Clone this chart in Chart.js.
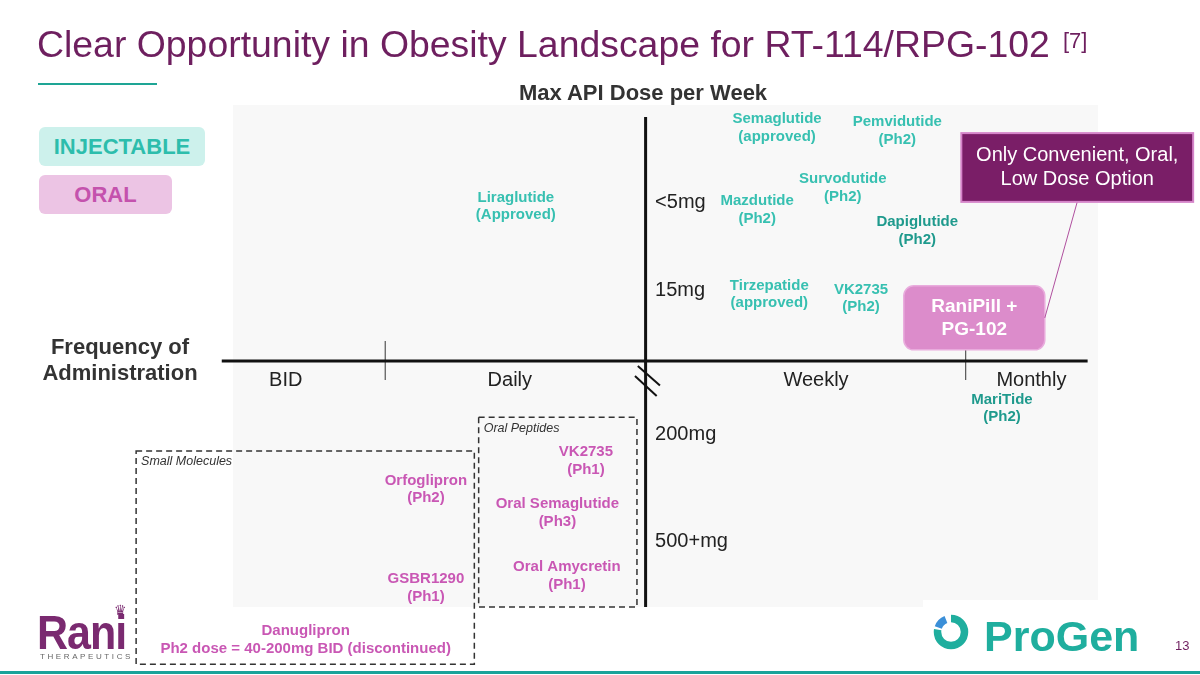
<!DOCTYPE html>
<html>
<head>
<meta charset="utf-8">
<script src="https://cdn.jsdelivr.net/npm/chart.js@4.4.0/dist/chart.umd.min.js"></script>
<style>
  body { margin: 0; background: #fff; font-family: "Liberation Sans", Arial, sans-serif; }
  #wrap { position: relative; width: 1200px; height: 675px; overflow: hidden; }
  #chart { position: absolute; left: 0; top: 0; }
  .abs { position: absolute; white-space: nowrap; line-height: 1; }
  .badge { position: absolute; display: flex; align-items: center; justify-content: center;
           border-radius: 6px; font-weight: bold; font-size: 22px; }
</style>
</head>
<body>
<div id="wrap">
  <canvas id="chart" width="1200" height="675"></canvas>

  <div class="abs" style="left:37px; top:26px; font-size:37.4px; color:#6e1f5f;">Clear Opportunity in Obesity Landscape for RT-114/RPG-102</div>
  <div class="abs" style="left:1063px; top:30px; font-size:22px; color:#6e1f5f;">[7]</div>
  <div class="abs" style="left:38px; top:83px; width:119px; height:2px; background:#1ea595;"></div>

  <div class="abs" style="left:443px; width:400px; text-align:center; top:82px; font-size:22px; font-weight:bold; color:#333;">Max API Dose per Week</div>
  <div class="abs" style="left:0px; width:240px; text-align:center; top:336px; font-size:22px; font-weight:bold; color:#333;">Frequency of</div>
  <div class="abs" style="left:0px; width:240px; text-align:center; top:362px; font-size:22px; font-weight:bold; color:#333;">Administration</div>

  <div class="badge" style="left:39px; top:127px; width:166px; height:39px; background:#cdf1ec; color:#2dbdac;">INJECTABLE</div>
  <div class="badge" style="left:39px; top:175px; width:133px; height:39px; background:#ecc4e4; color:#c452ad;">ORAL</div>

  <!-- logos -->
  <div class="abs" style="left:37px; top:609px; font-size:43px; font-weight:bold; color:#7a2a70; letter-spacing:-1px; transform:scaleY(1.1); transform-origin:left top;">Rani</div>
  <div class="abs" style="left:114px; top:603px; font-size:14px; color:#7a2a70;">&#9819;</div>
  <div class="abs" style="left:40px; top:653px; font-size:8px; letter-spacing:2.6px; color:#666;">THERAPEUTICS</div>

  <div class="abs" style="left:923px; top:600px; width:180px; height:68px; background:#fff;"></div>
  <svg class="abs" style="left:930px; top:611px;" width="44" height="44">
    <circle cx="21" cy="21" r="13.5" fill="none" stroke="#1fae9e" stroke-width="7.5"
            pathLength="360" stroke-dasharray="280 80" stroke-dashoffset="-270"></circle>
    <circle cx="21" cy="21" r="13.5" fill="none" stroke="#3b8fd8" stroke-width="7.5"
            pathLength="360" stroke-dasharray="48 312" stroke-dashoffset="-200"></circle>
  </svg>
  <div class="abs" style="left:984px; top:615px; font-size:43px; font-weight:bold; color:#1fae9e;">ProGen</div>
  <div class="abs" style="left:1175px; top:639px; font-size:13px; color:#6e1f5f;">13</div>
  <div class="abs" style="left:0px; top:671px; width:1200px; height:3px; background:#1aa39a;"></div>
</div>

<script>
// x = frequency of administration (0 = daily/weekly divide), y = max API dose per week (0 = axis)
const injectableNames = ['Liraglutide', 'Semaglutide', 'Pemvidutide', 'Survodutide', 'Mazdutide',
                         'Dapiglutide', 'Tirzepatide', 'VK2735', 'MariTide'];
const injectableStatus = ['(Approved)', '(approved)', '(Ph2)', '(Ph2)', '(Ph2)',
                          '(Ph2)', '(approved)', '(Ph2)', '(Ph2)'];
const injectableFreq = [-15.0, 15.2, 29.1, 22.8, 12.9, 31.4, 14.3, 24.9, 41.2];
const injectableDose = [30.8, 46.4, 45.8, 34.5, 30.1, 25.9, 13.3, 12.5, -9.4];

const oralNames = ['Orfoglipron', 'GSBR1290', 'Danuglipron', 'VK2735', 'Oral Semaglutide', 'Oral Amycretin'];
const oralStatus = ['(Ph2)', '(Ph1)', 'Ph2 dose = 40-200mg BID (discontinued)', '(Ph1)', '(Ph3)', '(Ph1)'];
const oralFreq = [-25.4, -25.4, -39.3, -6.9, -10.2, -9.1];
const oralDose = [-25.6, -45.2, -55.5, -19.9, -30.3, -42.8];

const raniNames = ['RaniPill +'];
const raniStatus = ['PG-102'];
const raniFreq = [38.0];
const raniDose = [8.6];

const doseLabels = ['<5mg', '15mg', '200mg', '500+mg'];
const doseLevels = [31.5, 14.1, -14.7, -35.9];

const freqLabels = ['BID', 'Daily', 'Weekly', 'Monthly'];
const freqCenters = [-41.6, -15.7, 19.7, 44.6];
const freqDividers = [-30.1, 37.0];

const groupNames = ['Small Molecules', 'Oral Peptides'];
const groupFreqRange = [[-58.9, -19.8], [-19.3, -1.0]];
const groupDoseRange = [[-17.9, -60.4], [-11.2, -49.0]];

const darkerTeal = ['Dapiglutide', 'MariTide'];

function points(names, status, xs, ys) {
    return names.map((n, i) => ({ x: xs[i], y: ys[i], name: n, status: status[i] }));
}

const FONT = '"Liberation Sans", Arial, sans-serif';

function roundRect(ctx, x, y, w, h, r) {
    ctx.beginPath();
    ctx.moveTo(x + r, y);
    ctx.arcTo(x + w, y, x + w, y + h, r);
    ctx.arcTo(x + w, y + h, x, y + h, r);
    ctx.arcTo(x, y + h, x, y, r);
    ctx.arcTo(x, y, x + w, y, r);
    ctx.closePath();
}

// draws the quadrant axes, group boxes and all the text marks
const slideMarks = {
    id: 'slideMarks',
    beforeDraw(chart, args, opts) {
        const { ctx, chartArea: a } = chart;
        ctx.save();
        ctx.fillStyle = opts.panelColor;
        ctx.fillRect(a.left, a.top, a.right - a.left, a.bottom - a.top);
        ctx.restore();
    },
    afterDatasetsDraw(chart, args, opts) {
        const { ctx, scales: { x, y } } = chart;
        const px = v => x.getPixelForValue(v);
        const py = v => y.getPixelForValue(v);
        ctx.save();

        // dashed group boxes
        ctx.strokeStyle = '#333';
        ctx.lineWidth = 1.5;
        ctx.setLineDash([6, 4]);
        groupNames.forEach((g, i) => {
            const x0 = px(groupFreqRange[i][0]), x1 = px(groupFreqRange[i][1]);
            const y0 = py(groupDoseRange[i][0]), y1 = py(groupDoseRange[i][1]);
            ctx.strokeRect(x0, y0, x1 - x0, y1 - y0);
        });
        ctx.setLineDash([]);
        ctx.fillStyle = '#333';
        ctx.font = 'italic 12.5px ' + FONT;
        ctx.textAlign = 'left';
        ctx.textBaseline = 'middle';
        groupNames.forEach((g, i) => {
            ctx.fillText(g, px(groupFreqRange[i][0]) + 5, py(groupDoseRange[i][0]) + 11);
        });

        // divider ticks on the frequency axis
        ctx.strokeStyle = '#555';
        ctx.lineWidth = 1.2;
        freqDividers.forEach(v => {
            ctx.beginPath();
            ctx.moveTo(px(v), py(4.0));
            ctx.lineTo(px(v), py(-3.8));
            ctx.stroke();
        });

        // main axes
        ctx.strokeStyle = '#111';
        ctx.lineWidth = 3;
        ctx.beginPath();
        ctx.moveTo(px(opts.xAxisFrom), py(0));
        ctx.lineTo(px(opts.xAxisTo), py(0));
        ctx.moveTo(px(0), py(opts.yAxisFrom));
        ctx.lineTo(px(0), py(opts.yAxisTo));
        ctx.stroke();

        // axis break
        ctx.lineWidth = 2;
        opts.breakMarks.forEach(m => {
            ctx.beginPath();
            ctx.moveTo(px(m[0]), py(m[1]));
            ctx.lineTo(px(m[2]), py(m[3]));
            ctx.stroke();
        });

        // tick labels
        ctx.fillStyle = '#222';
        ctx.font = '20px ' + FONT;
        ctx.textAlign = 'left';
        doseLabels.forEach((t, i) => ctx.fillText(t, px(1.1), py(doseLevels[i])));
        ctx.textAlign = 'center';
        freqLabels.forEach((t, i) => ctx.fillText(t, px(freqCenters[i]), py(-3.8)));

        // drug labels
        chart.data.datasets.forEach((ds, di) => {
            const meta = chart.getDatasetMeta(di);
            meta.data.forEach((pt, j) => {
                const d = ds.data[j];
                if (ds.boxed) {
                    const w = 141, h = 64;
                    ctx.fillStyle = ds.boxColor;
                    roundRect(ctx, pt.x - w / 2, pt.y - h / 2, w, h, 10);
                    ctx.fill();
                    ctx.strokeStyle = ds.boxBorder;
                    ctx.lineWidth = 1.5;
                    ctx.stroke();
                    ctx.fillStyle = '#fff';
                    ctx.font = 'bold 19px ' + FONT;
                    ctx.fillText(d.name, pt.x, pt.y - 11.5);
                    ctx.fillText(d.status, pt.x, pt.y + 11.5);

                    // callout
                    const c = opts.callout;
                    const cx0 = px(c.from[0]), cy0 = py(c.from[1]);
                    const cx1 = px(c.to[0]), cy1 = py(c.to[1]);
                    ctx.strokeStyle = '#b0509f';
                    ctx.lineWidth = 1;
                    ctx.beginPath();
                    ctx.moveTo((cx0 + cx1) / 2, cy1);
                    ctx.lineTo(pt.x + w / 2, pt.y);
                    ctx.stroke();
                    ctx.fillStyle = '#7a1e67';
                    ctx.fillRect(cx0, cy0, cx1 - cx0, cy1 - cy0);
                    ctx.strokeStyle = '#d584c9';
                    ctx.lineWidth = 2;
                    ctx.strokeRect(cx0, cy0, cx1 - cx0, cy1 - cy0);
                    ctx.fillStyle = '#fff';
                    ctx.font = '20px ' + FONT;
                    ctx.fillText(c.lines[0], (cx0 + cx1) / 2, (cy0 + cy1) / 2 - 12);
                    ctx.fillText(c.lines[1], (cx0 + cx1) / 2, (cy0 + cy1) / 2 + 12);
                    return;
                }
                ctx.fillStyle = Array.isArray(ds.backgroundColor) ? ds.backgroundColor[j] : ds.backgroundColor;
                ctx.font = 'bold 15px ' + FONT;
                ctx.fillText(d.name, pt.x, pt.y - 8.8);
                ctx.fillText(d.status, pt.x, pt.y + 8.8);
            });
        });
        ctx.restore();
    }
};

new Chart(document.getElementById('chart'), {
    type: 'scatter',
    data: {
        datasets: [
            {
                label: 'Injectable',
                data: points(injectableNames, injectableStatus, injectableFreq, injectableDose),
                backgroundColor: injectableNames.map(n => darkerTeal.includes(n) ? '#1f9a8d' : '#37c0b1'),
                pointRadius: 0
            },
            {
                label: 'Oral',
                data: points(oralNames, oralStatus, oralFreq, oralDose),
                backgroundColor: '#c957b4',
                pointRadius: 0
            },
            {
                label: 'RaniPill',
                data: points(raniNames, raniStatus, raniFreq, raniDose),
                backgroundColor: '#dc8ccb',
                boxed: true,
                boxColor: '#dc8ccb',
                boxBorder: '#e9acdd',
                pointRadius: 0
            }
        ]
    },
    options: {
        responsive: false,
        animation: false,
        events: [],
        layout: { padding: { left: 233, top: 105, right: 102, bottom: 68 } },
        scales: {
            x: { type: 'linear', min: -47.7, max: 52.3, display: false },
            y: { type: 'linear', min: -49, max: 51, display: false }
        },
        plugins: {
            legend: { display: false },
            tooltip: { enabled: false },
            slideMarks: {
                panelColor: '#f8f8f8',
                xAxisFrom: -49.0,
                xAxisTo: 51.1,
                yAxisFrom: 48.6,
                yAxisTo: -49.0,
                breakMarks: [[-0.9, -1.0, 1.66, -4.9], [-1.23, -3.0, 1.28, -6.97]],
                callout: { from: [36.5, 45.4], to: [63.3, 31.7],
                           lines: ['Only Convenient, Oral,', 'Low Dose Option'] }
            }
        }
    },
    plugins: [slideMarks]
});
</script>
</body>
</html>
